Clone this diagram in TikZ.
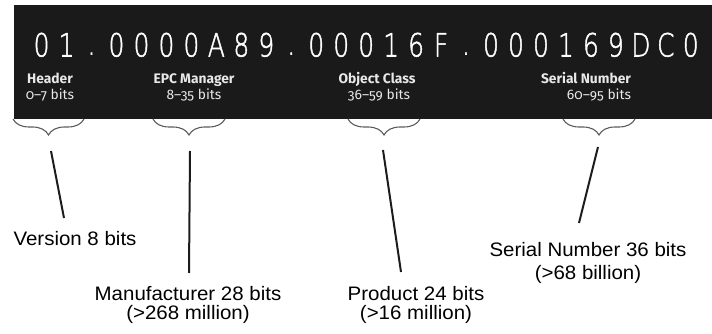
\documentclass[tikz,border=0pt]{standalone}
\usepackage{fontspec}
\setmainfont{Liberation Sans}
\newfontfamily\lcdfont[FakeBold=1.6]{DejaVu Sans ExtraLight}
\newfontfamily\barfont[Numbers=OldStyle]{Fira Sans}
\usetikzlibrary{decorations.pathreplacing}
\definecolor{barbg}{HTML}{1A1A1A}
\definecolor{bracegray}{HTML}{5C5C5C}
\definecolor{labelwhite}{HTML}{E8E8E8}
\definecolor{linecol}{HTML}{1C1C1C}
\newcommand\lcdch[1]{\makebox[24.97pt]{\scalebox{0.78}[1]{#1}}}
\newcommand\lcddot{\makebox[24.97pt]{\raisebox{2pt}{\scalebox{0.78}[1]{.}}}}
\begin{document}
\begin{tikzpicture}[x=1pt,y=-1pt,
  fieldhead/.style={font=\barfont\bfseries\fontsize{13.8}{15}\selectfont, text=labelwhite, inner sep=0, anchor=base},
  fieldbits/.style={font=\barfont\fontsize{13.8}{15}\selectfont, text=labelwhite, inner sep=0, anchor=base},
  bracestyle/.style={draw=bracegray, line width=1.1pt, decorate, decoration={brace, mirror, amplitude=16pt}},
  leader/.style={draw=linecol, line width=2pt},
  lbl/.style={inner sep=0, align=center, xscale=1.05, text=black}
]
\useasboundingbox (0,0) rectangle (712,334);
\fill[barbg] (14,5) rectangle (712,119);
\node[inner sep=0, anchor=base west, text=white, font=\lcdfont\fontsize{32}{34}\selectfont] (code) at (28.9,56.5)
  {\lcdch0\lcdch1\lcddot\lcdch0\lcdch0\lcdch0\lcdch0\lcdch A\lcdch8\lcdch9\lcddot\lcdch0\lcdch0\lcdch0\lcdch1\lcdch6\lcdch F\lcddot\lcdch0\lcdch0\lcdch0\lcdch1\lcdch6\lcdch9\lcdch D\lcdch C\lcdch0};
% field labels
\node[fieldhead] (hHeader) at (50,84) {Header};
\node[fieldbits] (bHeader) at (50,100) {0–7 bits};
\node[fieldhead] (hEPC) at (194,84) {EPC Manager};
\node[fieldbits] (bEPC) at (194,100) {8–35 bits};
\node[fieldhead] (hObj) at (377,84) {Object Class};
\node[fieldbits] (bObj) at (379,100) {36–59 bits};
\node[fieldhead] (hSer) at (586,84) {Serial Number};
\node[fieldbits] (bSer) at (599,100) {60–95 bits};
% braces
\coordinate (b1l) at (13,119); \coordinate (b1r) at (84,119);
\coordinate (b2l) at (153,119); \coordinate (b2r) at (225,119);
\coordinate (b3l) at (348,119); \coordinate (b3r) at (420,119);
\coordinate (b4l) at (563,119); \coordinate (b4r) at (635,119);
\draw[bracestyle] (b1l) -- (b1r);
\draw[bracestyle] (b2l) -- (b2r);
\draw[bracestyle] (b3l) -- (b3r);
\draw[bracestyle] (b4l) -- (b4r);
% labels
\node[lbl, anchor=base, font=\fontsize{19.5}{23}\selectfont] (ver) at (75,245) {Version 8 bits};
\node[lbl, anchor=north, font=\fontsize{19.5}{19}\selectfont] (man) at (188,286.5) {Manufacturer 28 bits\\(>268 million)};
\node[lbl, anchor=north, font=\fontsize{19.5}{19}\selectfont] (prod) at (416,286.5) {Product 24 bits\\(>16 million)};
\node[lbl, anchor=north, font=\fontsize{19.5}{23}\selectfont] (ser) at (588,242) {Serial Number 36 bits\\(>68 billion)};
% leader lines
\coordinate (t1) at (51,151); \coordinate (e1) at (64,218);
\coordinate (t2) at (190,151); \coordinate (e2) at (189,273);
\coordinate (t3) at (383,150); \coordinate (e3) at (401,272);
\coordinate (t4) at (598,147); \coordinate (e4) at (579,223);
\draw[leader] (t1) -- (e1);
\draw[leader] (t2) -- (e2);
\draw[leader] (t3) -- (e3);
\draw[leader] (t4) -- (e4);
\end{tikzpicture}
\end{document}
